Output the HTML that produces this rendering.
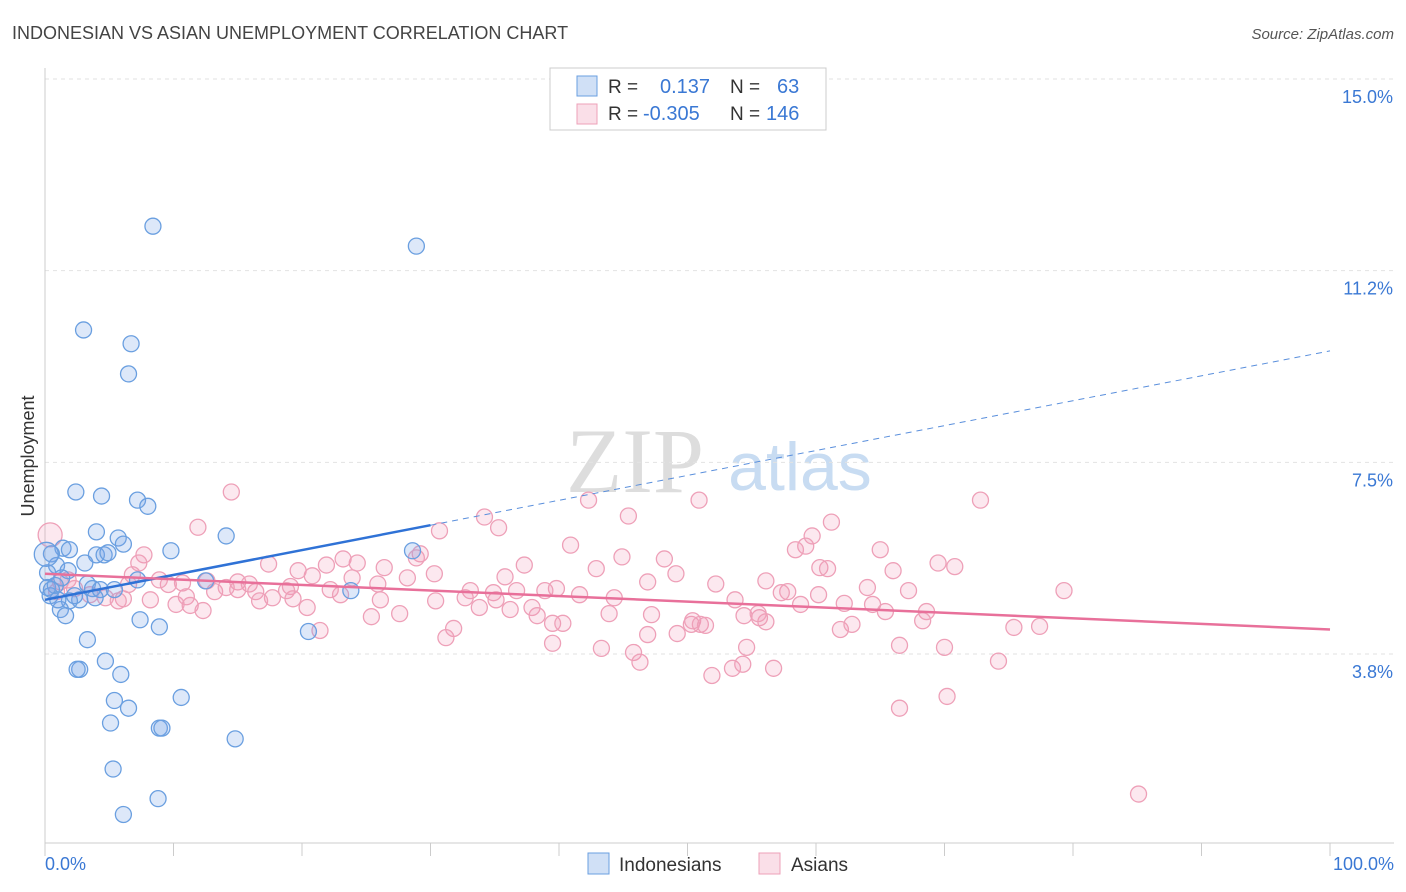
<!DOCTYPE html>
<html><head><meta charset="utf-8"><style>
body{margin:0;background:#fff;font-family:"Liberation Sans",sans-serif}
svg{display:block}
</style></head><body>
<svg id="chart" width="1406" height="892">
<text x="12" y="39" font-size="18" fill="#444">INDONESIAN VS ASIAN UNEMPLOYMENT CORRELATION CHART</text>
<text x="1394" y="39" font-size="15" fill="#555" font-style="italic" text-anchor="end">Source: ZipAtlas.com</text>
<text transform="translate(34,456) rotate(-90)" font-size="18" fill="#333" text-anchor="middle">Unemployment</text>
<g><text x="635" y="492" font-size="92" font-family="Liberation Serif,serif" fill="#ddd" text-anchor="middle">ZIP</text><text x="800" y="490" font-size="68" fill="#c8dcf2" text-anchor="middle">atlas</text></g>
<g id="grid"></g><g id="marks"></g><g id="lines"></g>
<g>
<rect x="550" y="68" width="276" height="62" fill="#fff" stroke="#ccc"/>
<rect x="577" y="76" width="20" height="20" fill="rgba(120,165,230,0.35)" stroke="#6a9fe0"/>
<rect x="577" y="104" width="20" height="20" fill="rgba(240,150,180,0.3)" stroke="#eea0b8"/>
<text x="608" y="93" font-size="19" fill="#333">R = </text><text x="660" y="93" font-size="20" fill="#3a78d4">0.137</text>
<text x="730" y="93" font-size="19" fill="#333">N = </text><text x="777" y="93" font-size="20" fill="#3a78d4">63</text>
<text x="608" y="120" font-size="19" fill="#333">R = </text><text x="643" y="120" font-size="20" fill="#3a78d4">-0.305</text>
<text x="730" y="120" font-size="19" fill="#333">N = </text><text x="766" y="120" font-size="20" fill="#3a78d4">146</text>
</g>
<g>
<rect x="588" y="853" width="21" height="21" fill="rgba(120,165,230,0.35)" stroke="#6a9fe0"/>
<text x="619" y="871" font-size="19" fill="#333">Indonesians</text>
<rect x="759" y="853" width="21" height="21" fill="rgba(240,150,180,0.3)" stroke="#eea0b8"/>
<text x="791" y="871" font-size="19" fill="#333">Asians</text>
</g>
<text x="45" y="870" font-size="18" fill="#3a78d4">0.0%</text>
<text x="1394" y="870" font-size="18" fill="#3a78d4" text-anchor="end">100.0%</text>
</svg>
<script>
const yTicks=[15,11.25,7.5,3.75];
const yTickLabels=["15.0%","11.2%","7.5%","3.8%"];
const xTicks=[0,10,20,30,40,50,60,70,80,90,100];
const indoX=[8.4,28.9,3.0,6.7,6.5,2.4,4.4,7.2,8.0,4.0,14.1,5.7,6.1,1.4,9.8,4.0,4.6,4.9,1.9,28.6,0.5,3.1,0.9,1.8,0.2,1.3,7.2,12.5,3.3,0.2,0.8,3.7,4.3,5.4,0.4,2.7,3.9,1.9,23.8,1.2,1.6,7.4,8.9,3.3,20.5,4.7,2.7,2.5,5.9,10.6,5.4,6.5,5.1,8.9,9.1,14.8,5.3,8.8,6.1,0.5,1.0,2.3,0.1];
const indoY=[12.12,11.73,10.09,9.82,9.23,6.92,6.84,6.76,6.64,6.14,6.06,6.02,5.90,5.82,5.77,5.69,5.69,5.73,5.79,5.77,5.71,5.53,5.48,5.38,5.34,5.24,5.20,5.18,5.12,5.05,5.09,5.03,5.01,5.01,4.89,4.81,4.85,4.79,4.99,4.62,4.50,4.42,4.28,4.03,4.19,3.61,3.45,3.45,3.35,2.90,2.84,2.69,2.40,2.30,2.30,2.09,1.50,0.92,0.61,5.01,4.81,4.89,5.70];
const asianX=[14.5,72.8,50.9,42.3,45.4,34.2,35.3,61.2,11.9,30.7,0.4,40.9,59.7,59.2,58.4,65.0,37.3,48.2,44.9,29.2,7.7,7.3,23.2,24.3,28.9,17.4,69.5,70.8,60.3,60.9,66.0,49.1,42.9,35.8,56.1,52.2,46.9,26.4,21.9,20.8,19.7,23.9,28.2,25.9,30.3,15.0,15.9,12.6,19.1,18.8,16.4,15.0,13.2,10.7,9.6,8.9,6.8,6.5,1.8,1.2,0.9,2.3,3.5,4.7,6.1,5.7,79.3,67.2,64.0,57.8,57.3,60.2,53.7,44.3,41.6,39.8,38.9,36.7,34.9,33.1,32.7,35.1,30.4,26.1,22.2,23.0,17.7,16.7,19.3,20.4,11.0,8.2,11.3,10.2,12.3,14.1,62.2,58.8,64.4,68.6,65.4,55.6,56.1,47.2,43.9,37.9,38.3,36.2,33.8,25.4,27.6,21.4,31.8,31.2,39.5,40.3,46.9,49.2,50.3,50.4,51.0,51.4,54.4,55.5,61.9,62.8,68.3,75.4,77.4,39.5,43.3,45.8,46.3,51.9,53.5,54.3,54.6,56.7,66.5,70.0,74.2,66.5,70.2,85.1];
const asianY=[6.92,6.76,6.76,6.76,6.45,6.43,6.22,6.33,6.23,6.16,6.08,5.88,6.06,5.86,5.79,5.79,5.49,5.61,5.65,5.71,5.69,5.53,5.61,5.53,5.63,5.51,5.53,5.46,5.44,5.42,5.38,5.32,5.42,5.26,5.18,5.12,5.16,5.44,5.49,5.28,5.38,5.24,5.24,5.12,5.32,5.16,5.12,5.18,5.07,4.99,4.97,5.01,4.97,5.14,5.11,5.20,5.30,5.11,5.20,5.16,4.97,5.03,4.91,4.85,4.83,4.79,4.99,4.99,5.05,4.97,4.95,4.91,4.81,4.85,4.91,5.03,4.99,4.99,4.95,4.99,4.85,4.81,4.79,4.81,5.01,4.91,4.85,4.79,4.83,4.66,4.87,4.81,4.70,4.72,4.60,5.05,4.74,4.72,4.72,4.58,4.58,4.46,4.38,4.52,4.54,4.66,4.50,4.62,4.66,4.48,4.54,4.21,4.25,4.07,4.35,4.35,4.13,4.15,4.33,4.40,4.33,4.31,4.50,4.54,4.23,4.33,4.40,4.27,4.29,3.96,3.86,3.78,3.59,3.33,3.47,3.55,3.88,3.47,3.92,3.88,3.61,2.69,2.92,1.01];
const blueFitX=[0,30,100];
const blueFitY=[4.81,6.27,9.68];
const pinkFitX=[0,100];
const pinkFitY=[5.32,4.23];
const NS="http://www.w3.org/2000/svg";
const X0=45,X1=1330,Y0=843;
function sx(v){return X0+(X1-X0)*v/100;}
function sy(v){return 79+(15-v)*(654-79)/11.25;}
function mk(t,a,p){const e=document.createElementNS(NS,t);for(const k in a)e.setAttribute(k,a[k]);p.appendChild(e);return e;}
const grid=document.getElementById('grid');
yTicks.forEach((t,i)=>{
 const l=mk('line',{x1:X0,x2:1394,y1:sy(t),y2:sy(t),stroke:'#e2e2e2','stroke-dasharray':'4,4'},grid);
 
 
 const tx=mk('text',{x:1393,y:sy(t)+24,'font-size':18,fill:'#3a78d4','text-anchor':'end'},grid);
 tx.textContent=yTickLabels[i];
 
 
});
const ax=mk('line',{x1:X0,x2:1394,y1:Y0,y2:Y0,stroke:'#ccc'},grid);


const ay=mk('line',{x1:X0,x2:X0,y1:68,y2:Y0,stroke:'#ccc'},grid);


xTicks.forEach(t=>{
 const l=mk('line',{x1:sx(t),x2:sx(t),y1:Y0,y2:Y0+13,stroke:'#ccc'},grid);
 
 
});
const marks=document.getElementById('marks');
asianX.forEach((x,i)=>{
 const c=mk('circle',{cx:sx(x),cy:sy(asianY[i]),r:i==10?12:8,fill:'rgba(240,150,180,0.22)',stroke:'#eea0b8','stroke-width':1.3},marks);
 
 
});
indoX.forEach((x,i)=>{
 const c=mk('circle',{cx:sx(x),cy:sy(indoY[i]),r:i==62?12:8,fill:'rgba(120,165,230,0.25)',stroke:'#6a9fe0','stroke-width':1.3},marks);
 
 
});
const lines=document.getElementById('lines');
const b1=mk('line',{x1:sx(blueFitX[0]),y1:sy(blueFitY[0]),x2:sx(blueFitX[1]),y2:sy(blueFitY[1]),stroke:'#2f72d6','stroke-width':2.5},lines);


const b2=mk('line',{x1:sx(blueFitX[1]),y1:sy(blueFitY[1]),x2:sx(blueFitX[2]),y2:sy(blueFitY[2]),stroke:'#5a8fdc','stroke-width':1,'stroke-dasharray':'6,5'},lines);


const p1=mk('line',{x1:sx(pinkFitX[0]),y1:sy(pinkFitY[0]),x2:sx(pinkFitX[1]),y2:sy(pinkFitY[1]),stroke:'#e8709a','stroke-width':2.5},lines);


</script>
</body></html>
